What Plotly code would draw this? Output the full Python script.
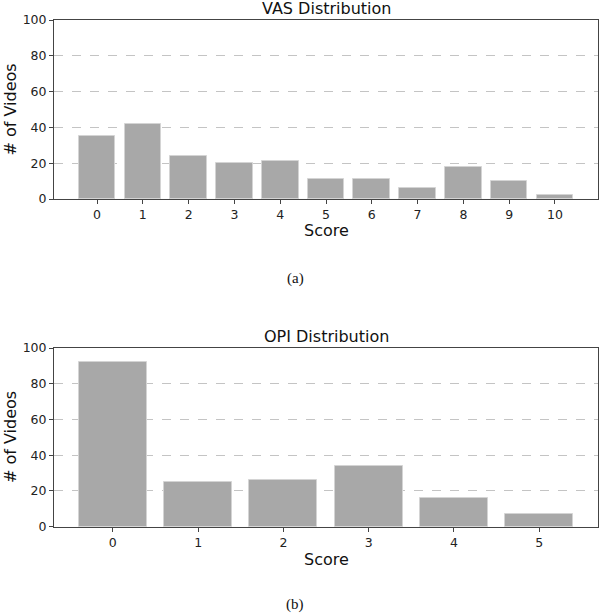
import plotly.graph_objects as go

vas_scores = [0, 1, 2, 3, 4, 5, 6, 7, 8, 9, 10]
vas_counts = [35, 42, 24, 20, 21, 11, 11, 6, 18, 10, 2]
opi_scores = [0, 1, 2, 3, 4, 5]
opi_counts = [92, 25, 26, 34, 16, 7]
y_ticks = [0, 20, 40, 60, 80, 100]

W, H = 600, 614
BAR = "#a8a8a8"
FONT = "DejaVu Sans"

def py(px):
    return 1 - px / H

fig = go.Figure()
fig.add_trace(go.Bar(x=vas_scores, y=vas_counts, width=0.8, marker=dict(color=BAR, line=dict(color="#d4d4d4", width=1)),
                     xaxis="x", yaxis="y", showlegend=False))
fig.add_trace(go.Bar(x=opi_scores, y=opi_counts, width=0.8, marker=dict(color=BAR, line=dict(color="#d4d4d4", width=1)),
                     xaxis="x2", yaxis="y2", showlegend=False))

ax_common = dict(showline=True, linecolor="#444444", linewidth=1, mirror=True, automargin=False,
                 ticks="outside", ticklen=4, tickcolor="#444444", tickwidth=1,
                 tickfont=dict(family=FONT, size=12.5, color="#222222"), zeroline=False)
xd = [54 / W, 598 / W]

fig.update_layout(
    width=W, height=H, autosize=False, margin=dict(l=0, r=0, t=0, b=0, pad=0),
    paper_bgcolor="white", plot_bgcolor="white", bargap=0,
    xaxis=dict(domain=xd, anchor="y", range=[-0.94, 10.94], tickmode="array", tickvals=vas_scores,
               showgrid=False, **ax_common),
    yaxis=dict(domain=[py(199), py(20)], anchor="x", range=[0, 100], tickmode="array", tickvals=y_ticks,
               showgrid=True, gridcolor="#c4c4c4", griddash="dash", gridwidth=1, **ax_common),
    xaxis2=dict(domain=xd, anchor="y2", range=[-0.69, 5.69], tickmode="array", tickvals=opi_scores,
                showgrid=False, **ax_common),
    yaxis2=dict(domain=[py(526.7), py(348)], anchor="x2", range=[0, 100], tickmode="array", tickvals=y_ticks,
                showgrid=True, gridcolor="#c4c4c4", griddash="dash", gridwidth=1, **ax_common),
)

def ann(text, xpx, ypx, size, family=FONT, angle=0):
    fig.add_annotation(text=text, x=xpx / W, y=py(ypx), xref="paper", yref="paper",
                       showarrow=False, xanchor="center", yanchor="middle", textangle=angle,
                       font=dict(family=family, size=size, color="#111111"))

ann("VAS Distribution", 326, 8, 16)
ann("Score", 326, 231, 16)
ann("# of Videos", 10, 109.5, 16, angle=-90)
ann("(a)", 295, 278, 15, family="Liberation Serif")
ann("OPI Distribution", 326, 336, 16)
ann("Score", 326, 559, 16)
ann("# of Videos", 10, 437, 16, angle=-90)
ann("(b)", 295, 604, 15, family="Liberation Serif")

fig.write_html("out.html", config={"displayModeBar": False},
               post_script="document.body.style.margin='0';document.body.style.overflow='hidden';")
